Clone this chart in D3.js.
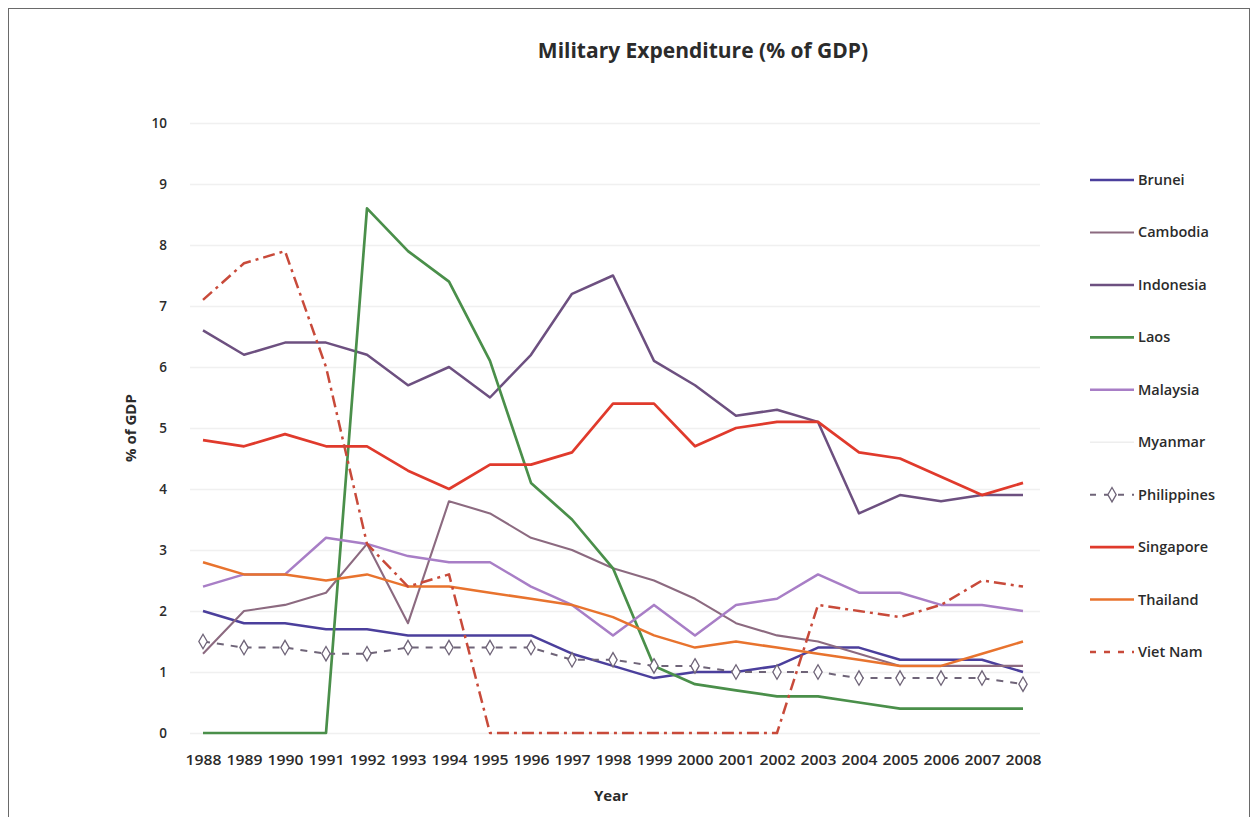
<!DOCTYPE html>
<html>
<head>
<meta charset="utf-8">
<script src="https://cdn.jsdelivr.net/npm/d3@7"></script>
<style>
  html, body { margin: 0; padding: 0; background: #ffffff; }
  svg { display: block; }
  text { font-family: "Open Sans", "Liberation Sans", sans-serif; fill: #2b2b2b; }
</style>
</head>
<body>
<svg id="chart" width="1257" height="817"></svg>
<script>
// Military expenditure as a share of GDP, 1988–2008
const years = [1988, 1989, 1990, 1991, 1992, 1993, 1994, 1995, 1996, 1997, 1998,
               1999, 2000, 2001, 2002, 2003, 2004, 2005, 2006, 2007, 2008];

const countries = ["Brunei", "Cambodia", "Indonesia", "Laos", "Malaysia",
                   "Myanmar", "Philippines", "Singapore", "Thailand", "Viet Nam"];

const brunei      = [2.0, 1.8, 1.8, 1.7, 1.7, 1.6, 1.6, 1.6, 1.6, 1.3, 1.1, 0.9, 1.0, 1.0, 1.1, 1.4, 1.4, 1.2, 1.2, 1.2, 1.0];
const cambodia    = [1.3, 2.0, 2.1, 2.3, 3.1, 1.8, 3.8, 3.6, 3.2, 3.0, 2.7, 2.5, 2.2, 1.8, 1.6, 1.5, 1.3, 1.1, 1.1, 1.1, 1.1];
const indonesia   = [6.6, 6.2, 6.4, 6.4, 6.2, 5.7, 6.0, 5.5, 6.2, 7.2, 7.5, 6.1, 5.7, 5.2, 5.3, 5.1, 3.6, 3.9, 3.8, 3.9, 3.9];
const laos        = [0.0, 0.0, 0.0, 0.0, 8.6, 7.9, 7.4, 6.1, 4.1, 3.5, 2.7, 1.1, 0.8, 0.7, 0.6, 0.6, 0.5, 0.4, 0.4, 0.4, 0.4];
const malaysia    = [2.4, 2.6, 2.6, 3.2, 3.1, 2.9, 2.8, 2.8, 2.4, 2.1, 1.6, 2.1, 1.6, 2.1, 2.2, 2.6, 2.3, 2.3, 2.1, 2.1, 2.0];
const myanmar     = [];  // no figures reported
const philippines = [1.5, 1.4, 1.4, 1.3, 1.3, 1.4, 1.4, 1.4, 1.4, 1.2, 1.2, 1.1, 1.1, 1.0, 1.0, 1.0, 0.9, 0.9, 0.9, 0.9, 0.8];
const singapore   = [4.8, 4.7, 4.9, 4.7, 4.7, 4.3, 4.0, 4.4, 4.4, 4.6, 5.4, 5.4, 4.7, 5.0, 5.1, 5.1, 4.6, 4.5, 4.2, 3.9, 4.1];
const thailand    = [2.8, 2.6, 2.6, 2.5, 2.6, 2.4, 2.4, 2.3, 2.2, 2.1, 1.9, 1.6, 1.4, 1.5, 1.4, 1.3, 1.2, 1.1, 1.1, 1.3, 1.5];
const vietnam     = [7.1, 7.7, 7.9, 6.0, 3.1, 2.4, 2.6, 0.0, 0.0, 0.0, 0.0, 0.0, 0.0, 0.0, 0.0, 2.1, 2.0, 1.9, 2.1, 2.5, 2.4];

const yTicks = [0, 1, 2, 3, 4, 5, 6, 7, 8, 9, 10];

// Line styling per country
const styles = {
  "Brunei":      { color: "#4b3f9c", width: 2.5 },
  "Cambodia":    { color: "#8c6a80", width: 2.1 },
  "Indonesia":   { color: "#6d5080", width: 2.5 },
  "Laos":        { color: "#4a8f4a", width: 2.7 },
  "Malaysia":    { color: "#a87ec6", width: 2.5 },
  "Myanmar":     { color: "#eeeeee", width: 1.5 },
  "Philippines": { color: "#6f6478", width: 2.0, dash: "7,7", marker: true },
  "Singapore":   { color: "#e03a2c", width: 2.7 },
  "Thailand":    { color: "#e8732e", width: 2.5 },
  "Viet Nam":    { color: "#c84a3a", width: 2.5, dash: "12,5,3,5" }
};

const seriesValues = {
  "Brunei": brunei, "Cambodia": cambodia, "Indonesia": indonesia, "Laos": laos,
  "Malaysia": malaysia, "Myanmar": myanmar, "Philippines": philippines,
  "Singapore": singapore, "Thailand": thailand, "Viet Nam": vietnam
};

const svg = d3.select("#chart");

// Outer frame
svg.append("rect")
  .attr("x", 8.5).attr("y", 8.5)
  .attr("width", 1241).attr("height", 830)
  .attr("fill", "none").attr("stroke", "#6a6a6a").attr("stroke-width", 1);

const x = d3.scalePoint().domain(years).range([203, 1023]);
const y = d3.scaleLinear().domain([0, 10]).range([733, 123]);

// Faint horizontal gridlines
const grid = svg.append("g")
  .attr("transform", "translate(190,0)")
  .call(d3.axisLeft(y).tickValues(yTicks).tickSize(-850).tickFormat(""));
grid.select(".domain").remove();
grid.selectAll("line").attr("stroke", "#f0f0f0").attr("stroke-width", 1.5);

// Y axis labels
const yAxis = svg.append("g")
  .attr("transform", "translate(169,0)")
  .call(d3.axisLeft(y).tickValues(yTicks).tickSize(0).tickPadding(2).tickFormat(d3.format("d")));
yAxis.select(".domain").remove();
yAxis.selectAll("text")
  .style("font-size", "13.5px").style("font-weight", "600")
  .attr("fill", "#333");

// X axis labels
const xAxis = svg.append("g")
  .attr("transform", "translate(0,755)")
  .call(d3.axisBottom(x).tickSize(0).tickPadding(0));
xAxis.select(".domain").remove();
xAxis.selectAll("text")
  .style("font-size", "13.5px").style("font-weight", "600")
  .attr("fill", "#333")
  .attr("textLength", 36).attr("lengthAdjust", "spacingAndGlyphs");

// Lines
const line = d3.line()
  .x((d, i) => x(years[i]))
  .y(d => y(d));

countries.forEach(name => {
  const vals = seriesValues[name];
  if (!vals.length) return;
  const st = styles[name];
  svg.append("path")
    .datum(vals)
    .attr("d", line)
    .attr("fill", "none")
    .attr("stroke", st.color)
    .attr("stroke-width", st.width)
    .attr("stroke-linejoin", "round")
    .attr("stroke-dasharray", st.dash || null);
  if (st.marker) {
    svg.append("g").selectAll("path")
      .data(vals)
      .join("path")
      .attr("d", d3.symbol(d3.symbolDiamond, 60))
      .attr("transform", (d, i) => `translate(${x(years[i])},${y(d)})`)
      .attr("fill", "#ffffff")
      .attr("stroke", st.color)
      .attr("stroke-width", 1.3);
  }
});

// Title and axis titles
svg.append("text")
  .attr("x", 703).attr("y", 58)
  .attr("text-anchor", "middle")
  .style("font-size", "21px").style("font-weight", "700")
  .text("Military Expenditure (% of GDP)");

svg.append("text")
  .attr("transform", "translate(136,428) rotate(-90)")
  .attr("text-anchor", "middle")
  .style("font-size", "15px").style("font-weight", "700")
  .text("% of GDP");

svg.append("text")
  .attr("x", 611).attr("y", 801)
  .attr("text-anchor", "middle")
  .style("font-size", "15px").style("font-weight", "700")
  .text("Year");

// Legend
const legendY = d3.scalePoint().domain(countries).range([180, 652]);
const legend = svg.append("g");
countries.forEach(name => {
  const st = styles[name];
  const ly = legendY(name);
  legend.append("line")
    .attr("x1", 1090).attr("x2", 1134)
    .attr("y1", ly).attr("y2", ly)
    .attr("stroke", st.color)
    .attr("stroke-width", st.width)
    .attr("stroke-dasharray", st.dash ? "6,8" : null);
  if (st.marker) {
    legend.append("path")
      .attr("d", d3.symbol(d3.symbolDiamond, 60))
      .attr("transform", `translate(1112,${ly})`)
      .attr("fill", "#ffffff")
      .attr("stroke", st.color)
      .attr("stroke-width", 1.3);
  }
  legend.append("text")
    .attr("x", 1138).attr("y", ly + 5)
    .style("font-size", "14.5px").style("font-weight", "600")
    .attr("fill", "#333")
    .text(name);
});
</script>
</body>
</html>
